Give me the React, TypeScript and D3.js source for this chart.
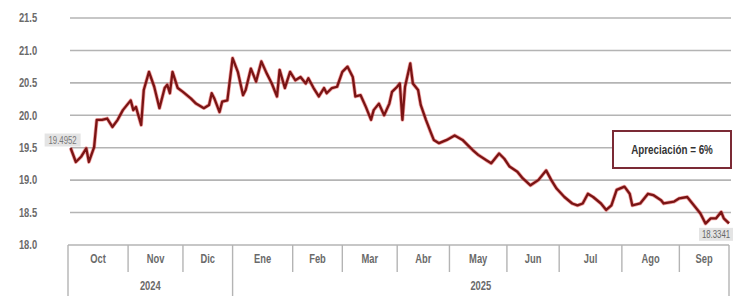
import React from "react";
import * as d3 from "d3";

const yTicks = [18.0, 18.5, 19.0, 19.5, 20.0, 20.5, 21.0, 21.5];
const months = ["Oct", "Nov", "Dic", "Ene", "Feb", "Mar", "Abr", "May", "Jun", "Jul", "Ago", "Sep"];
const monthSessions = [23, 21, 19, 23, 19, 21, 20, 22, 20, 24, 22, 19];
const years = ["2024", "2025"];
const yearMonthCounts = [3, 9];

const sessions = [
  1, 3, 5, 7, 8, 10, 11, 13, 15, 17, 19, 21, 24, 25, 26, 28, 29, 31, 33, 35,
  37, 38, 39, 40, 42, 44, 47, 49, 52, 54, 55, 56, 58, 59, 61, 63, 65, 67, 68, 70,
  72, 74, 76, 78, 80, 81, 83, 85, 87, 89, 91, 92, 94, 96, 98, 99, 101, 103, 105, 107,
  109, 110, 112, 114, 116, 117, 119, 121, 123, 124, 126, 127, 128, 129, 131, 132, 134, 135, 137, 139,
  140, 142, 145, 148, 151, 153, 155, 157, 160, 162, 165, 167, 169, 172, 174, 177, 180, 183, 185, 187,
  190, 193, 195, 197, 199, 201, 204, 206, 208, 210, 213, 215, 216, 219, 222, 224, 227, 228, 232, 234,
  237, 239, 242, 244, 246, 248, 250, 251, 253,
];
const values = [
  19.4952, 19.28, 19.36, 19.49, 19.28, 19.51, 19.93, 19.93, 19.95, 19.82, 19.93, 20.08, 20.23, 20.08, 20.13, 19.85, 20.39, 20.67, 20.44, 20.11,
  20.42, 20.47, 20.34, 20.67, 20.42, 20.36, 20.26, 20.18, 20.11, 20.16, 20.34, 20.26, 20.05, 20.21, 20.23, 20.88, 20.67, 20.31, 20.39, 20.72,
  20.52, 20.83, 20.65, 20.49, 20.29, 20.70, 20.42, 20.67, 20.54, 20.59, 20.49, 20.57, 20.42, 20.29, 20.42, 20.34, 20.42, 20.44, 20.67, 20.75,
  20.59, 20.29, 20.31, 20.13, 19.93, 20.08, 20.18, 20.00, 20.18, 20.36, 20.44, 20.49, 19.93, 20.44, 20.80, 20.49, 20.39, 20.16, 19.93, 19.72,
  19.62, 19.57, 19.62, 19.69, 19.62, 19.54, 19.46, 19.39, 19.31, 19.26, 19.41, 19.33, 19.21, 19.13, 19.03, 18.92, 19.00, 19.15, 19.00, 18.87,
  18.74, 18.64, 18.61, 18.64, 18.79, 18.74, 18.64, 18.54, 18.61, 18.85, 18.90, 18.79, 18.61, 18.64, 18.79, 18.77, 18.69, 18.64, 18.67, 18.72,
  18.74, 18.64, 18.49, 18.33, 18.41, 18.41, 18.51, 18.41, 18.3341,
];
const startLabel = "19.4952";
const endLabel = "18.3341";
const annotation = "Apreciación = 6%";

const FONT = "'Liberation Sans', Arial, sans-serif";

function NText(props: {
  x: number; y: number; size: number; fill: string; bold?: boolean; sx?: number; children: React.ReactNode;
}) {
  const { x, y, size, fill, bold, sx = 0.78, children } = props;
  return (
    <g transform={`translate(${x},${y}) scale(${sx},1)`}>
      <text x={0} y={0} dy="0.35em" textAnchor="middle" fontSize={size} fill={fill} fontWeight={bold ? "bold" : "normal"}>
        {children}
      </text>
    </g>
  );
}

export default function App() {
  const W = 736, H = 296;
  const totalSessions = d3.sum(monthSessions);
  const x = d3.scaleLinear().domain([0, totalSessions]).range([68, 729]);
  const y = d3.scaleLinear().domain([18, 21.5]).range([245, 18]);

  const bounds = [0, ...d3.cumsum(monthSessions)];
  const yearBounds = [0, ...d3.cumsum(yearMonthCounts)].map((m) => bounds[m]);

  const pts = sessions.map((s, i) => [s, values[i]] as [number, number]);
  const line = d3
    .line<[number, number]>()
    .x((d) => x(d[0]))
    .y((d) => y(d[1]));
  const path = line(pts) || "";

  const axisTop = y(18);
  const monthBottom = axisTop + 27;
  const first = pts[0];
  const last = pts[pts.length - 1];
  const gray = "#6a6a6a";

  return (
    <svg
      width={W}
      height={H}
      style={{ position: "fixed", left: 0, top: 0, background: "#fff" }}
      fontFamily={FONT}
    >
      {/* gridlines */}
      {yTicks.filter((t) => t > 18).map((t) => (
        <line key={t} x1={70} x2={731} y1={y(t)} y2={y(t)} stroke="#b4b4b4" strokeWidth={1.6} />
      ))}
      {/* y labels */}
      {yTicks.map((t) => (
        <NText key={"l" + t} x={28} y={y(t)} size={12} fill={gray} bold>
          {t.toFixed(1)}
        </NText>
      ))}
      {/* axis box */}
      <line x1={x(0)} x2={x(totalSessions)} y1={axisTop} y2={axisTop} stroke="#b4b4b4" strokeWidth={1.6} />
      {bounds.map((b, i) => {
        const long = yearBounds.includes(b);
        return (
          <line key={"b" + i} x1={x(b)} x2={x(b)} y1={axisTop} y2={long ? H : monthBottom} stroke="#b4b4b4" strokeWidth={1.4} />
        );
      })}
      {months.map((m, i) => (
        <NText key={m} x={(x(bounds[i]) + x(bounds[i + 1])) / 2} y={259} size={12} fill={gray} bold>
          {m}
        </NText>
      ))}
      {years.map((yr, i) => (
        <NText key={yr} x={(x(yearBounds[i]) + x(yearBounds[i + 1])) / 2} y={286} size={12} fill={gray} bold>
          {yr}
        </NText>
      ))}
      {/* series */}
      <path d={path} fill="none" stroke="#e03030" strokeOpacity={0.45} strokeWidth={3.8} strokeLinejoin="round" />
      <path d={path} fill="none" stroke="#7a1414" strokeWidth={2.3} strokeLinejoin="round" />
      {/* start / end labels */}
      <g transform={`translate(${x(first[0]) - 8},${y(first[1]) - 8})`}>
        <rect x={-18} y={-6.5} width={36} height={13} fill="#e4e4e4" />
        <NText x={0} y={0} size={10} fill="#777">{startLabel}</NText>
      </g>
      <g transform={`translate(${x(last[0]) - 13},${y(last[1]) + 11})`}>
        <rect x={-17} y={-6.5} width={34} height={13} fill="#e4e4e4" />
        <NText x={0} y={0} size={10} fill="#666">{endLabel}</NText>
      </g>
      {/* annotation */}
      <rect x={613} y={131} width={118} height={37} fill="#fff" stroke="#7b2a35" strokeWidth={2} />
      <NText x={672} y={150} size={12} fill="#333" bold sx={0.82}>
        {annotation}
      </NText>
    </svg>
  );
}
